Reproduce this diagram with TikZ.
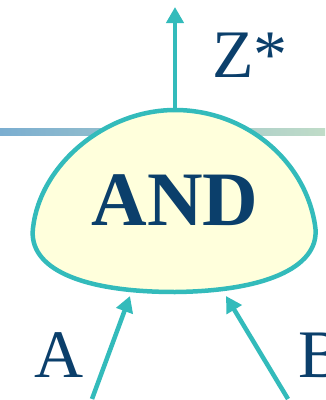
\documentclass[tikz,border=0pt]{standalone}
\usepackage{fontspec}
\setmainfont{Liberation Serif}
\usetikzlibrary{arrows.meta}
\definecolor{gatefill}{HTML}{FFFFDC}
\definecolor{gateline}{HTML}{33BBBB}
\definecolor{labelblue}{HTML}{0B3F6B}
\definecolor{barleft}{HTML}{7BAED0}
\definecolor{barright}{HTML}{C0DCC8}
\tikzset{
  wire/.style={draw=gateline, line width=4.5pt, -{Triangle[width=17pt,length=16pt]}},
  sig/.style={text=labelblue, inner sep=0pt, font=\fontsize{68}{70}\selectfont}
}
\begin{document}
\begin{tikzpicture}[x=1pt, y=-1pt]
  \useasboundingbox (0,0) rectangle (325,400);

  % bus bar behind the gate
  \shade[left color=barleft, right color=barright] (0,128) rectangle (325,135);

  % gate body
  \draw[gateline, line width=4.5pt, fill=gatefill]
    (175,110) .. controls (245,110) and (305,160) .. (315,225)
              .. controls (322,265) and (270,291) .. (175,292)
              .. controls (80,292) and (28,268) .. (33,228)
              .. controls (40,165) and (105,110) .. (175,110) -- cycle;
  \node[text=labelblue, inner sep=0pt, font=\fontsize{77}{80}\selectfont\bfseries] (gate) at (175,200) {AND};

  \coordinate (top) at (175,112);
  \coordinate (out) at (175,7);
  \coordinate (inA) at (130,296);
  \coordinate (inB) at (226,296);
  \coordinate (srcA) at (92,399);
  \coordinate (srcB) at (288,399);

  \draw[wire] (top) -- (out);
  \draw[wire] (srcA) -- (inA);
  \draw[wire] (srcB) -- (inB);

  \node[sig] (z) at (250,55) {Z*};
  \node[sig] (a) at (59,355) {A};
  \node[sig, anchor=west] (b) at (298,355) {B};
\end{tikzpicture}
\end{document}
